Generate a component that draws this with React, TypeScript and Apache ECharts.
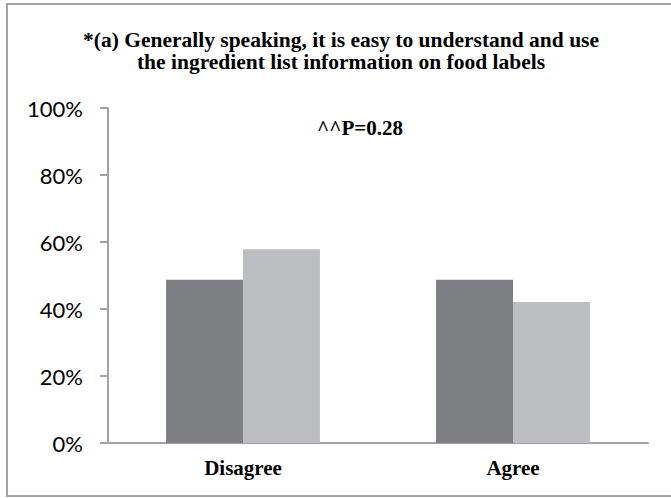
import React, { useEffect, useRef } from "react";
import * as echarts from "echarts";

const categories = ["Disagree", "Agree"];
const seriesA = [48.7, 48.7];
const seriesB = [57.8, 42.1];
const yTicks = [0, 20, 40, 60, 80, 100];
const titleLines = [
  "*(a) Generally speaking, it is easy to understand and use",
  "the ingredient list information on food labels",
];
const annotation = "^^P=0.28";

export default function App() {
  const ref = useRef<HTMLDivElement>(null);
  useEffect(() => {
    document.body.style.margin = "0";
    if (!ref.current) return;
    const chart = echarts.init(ref.current, null, { renderer: "svg" });
    chart.setOption({
      animation: false,
      backgroundColor: "#ffffff",
      grid: { left: 108, right: 23, top: 108, bottom: 55 },
      graphic: [
        {
          type: "rect",
          shape: { x: 7, y: 4, width: 670, height: 492 },
          style: { fill: "none", stroke: "#a3a3a6", lineWidth: 2 },
          silent: true,
        },
        {
          type: "text",
          x: 341,
          y: 29,
          style: {
            text: titleLines.join("\n"),
            font: "bold 21.5px 'Liberation Serif', 'Times New Roman', serif",
            lineHeight: 22,
            fill: "#000",
            align: "center",
          },
        },
        {
          type: "text",
          x: 360,
          y: 128,
          style: {
            text: annotation,
            font: "bold 21px 'Liberation Serif', 'Times New Roman', serif",
            fill: "#000",
            align: "center",
            verticalAlign: "middle",
          },
        },
      ],
      xAxis: {
        type: "category",
        data: categories,
        axisLine: { lineStyle: { color: "#a3a3a6", width: 2 } },
        axisTick: { show: false },
        axisLabel: {
          color: "#000",
          fontFamily: "'Liberation Serif', 'Times New Roman', serif",
          fontWeight: "bold",
          fontSize: 21,
          margin: 14,
        },
      },
      yAxis: {
        type: "value",
        min: 0,
        max: 100,
        interval: 20,
        axisLine: { show: true, lineStyle: { color: "#a3a3a6", width: 2 } },
        axisTick: { show: true, length: 8, lineStyle: { color: "#a3a3a6", width: 2 } },
        splitLine: { show: false },
        axisLabel: {
          color: "#000",
          fontFamily: "Lato, 'Open Sans', sans-serif",
          fontSize: 22,
          margin: 25,
          formatter: (v: number) => (yTicks.includes(v) ? v + "%" : ""),
        },
      },
      series: [
        {
          name: "Group 1",
          type: "bar",
          data: seriesA,
          barGap: "0%",
          barCategoryGap: "43%",
          itemStyle: { color: "#7e7f83" },
        },
        {
          name: "Group 2",
          type: "bar",
          data: seriesB,
          barGap: "0%",
          barCategoryGap: "43%",
          itemStyle: { color: "#bdbec2" },
        },
      ],
    });
    return () => chart.dispose();
  }, []);
  return <div ref={ref} style={{ width: 671, height: 498 }} />;
}
